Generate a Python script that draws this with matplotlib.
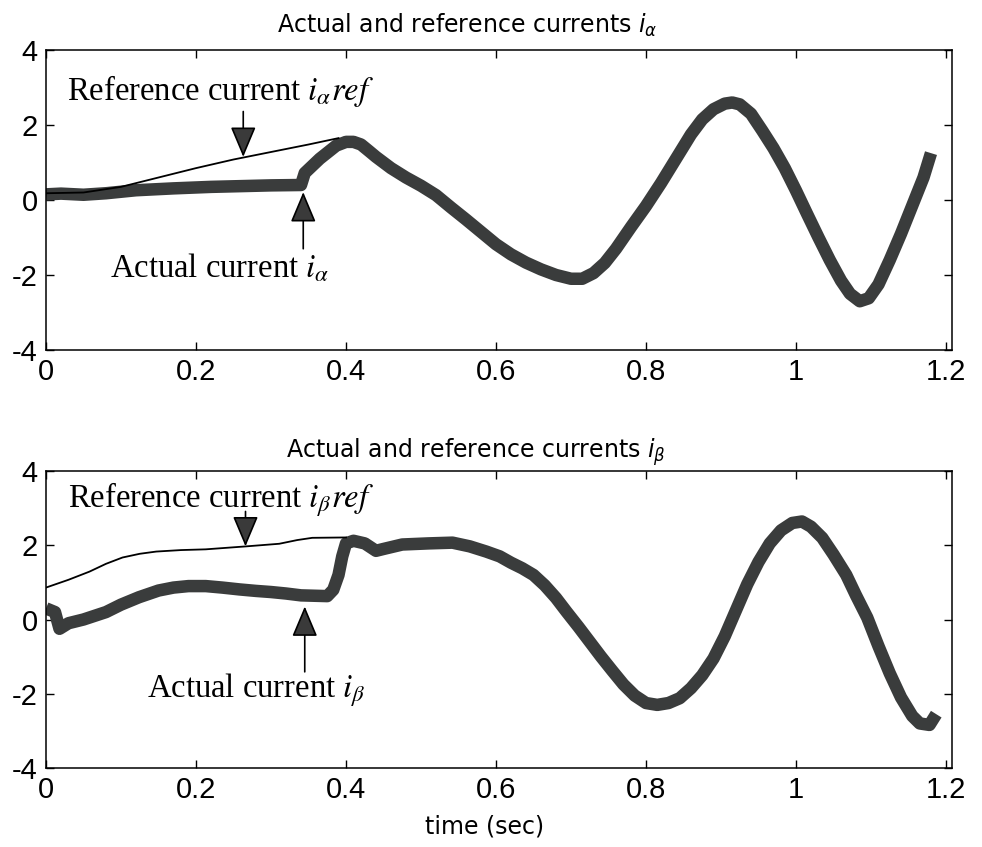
import matplotlib
matplotlib.use("Agg")
import matplotlib.pyplot as plt

plt.rcParams['axes.unicode_minus'] = False

# ---- data ----
t_alpha = [0.0, 0.02, 0.05, 0.08, 0.12, 0.17, 0.22, 0.26, 0.30, 0.34, 0.345, 0.365, 0.387,
           0.40, 0.41, 0.42, 0.431, 0.44, 0.46, 0.48, 0.50, 0.52, 0.54, 0.56, 0.58, 0.60,
           0.62, 0.64, 0.66, 0.68, 0.70, 0.715, 0.73, 0.745, 0.76, 0.78, 0.80, 0.82, 0.84,
           0.86, 0.875, 0.89, 0.905, 0.915, 0.925, 0.94, 0.955, 0.97, 0.985, 1.0, 1.015,
           1.03, 1.045, 1.06, 1.072, 1.085, 1.097, 1.11, 1.125, 1.14, 1.155, 1.17, 1.18]
i_alpha = [0.15, 0.17, 0.14, 0.18, 0.26, 0.31, 0.35, 0.37, 0.39, 0.4, 0.72, 1.1, 1.45,
           1.55, 1.55, 1.48, 1.3, 1.15, 0.85, 0.6, 0.38, 0.13, -0.2, -0.52, -0.85, -1.18,
           -1.45, -1.67, -1.85, -2.0, -2.1, -2.1, -1.95, -1.68, -1.3, -0.72, -0.16, 0.45, 1.1,
           1.75, 2.15, 2.42, 2.57, 2.6, 2.55, 2.3, 1.85, 1.38, 0.85, 0.25, -0.38,
           -1.0, -1.6, -2.15, -2.5, -2.7, -2.62, -2.25, -1.6, -0.9, -0.15, 0.6, 1.25]

t_alpha_ref = [0.0, 0.05, 0.10, 0.15, 0.20, 0.25, 0.30, 0.35, 0.39]
i_alpha_ref = [0.18, 0.2, 0.35, 0.6, 0.85, 1.08, 1.28, 1.48, 1.65]

t_beta = [0.0, 0.012, 0.018, 0.03, 0.05, 0.08, 0.10, 0.124, 0.15, 0.17, 0.19, 0.213, 0.235,
          0.258, 0.28, 0.30, 0.32, 0.34, 0.375, 0.383, 0.39, 0.395, 0.40, 0.41, 0.425, 0.44,
          0.45, 0.475, 0.51, 0.542, 0.565, 0.587, 0.605, 0.62, 0.635, 0.65, 0.665, 0.68,
          0.694, 0.71, 0.725, 0.74, 0.755, 0.77, 0.785, 0.80, 0.815, 0.83, 0.845, 0.86,
          0.875, 0.89, 0.905, 0.92, 0.935, 0.95, 0.965, 0.98, 0.995, 1.008, 1.02, 1.035,
          1.05, 1.067, 1.08, 1.095, 1.11, 1.125, 1.14, 1.155, 1.165, 1.178, 1.187]
i_beta = [0.3, 0.2, -0.25, -0.1, 0.0, 0.2, 0.4, 0.6, 0.78, 0.86, 0.9, 0.9, 0.86,
          0.81, 0.77, 0.74, 0.7, 0.65, 0.63, 0.8, 1.2, 1.7, 2.05, 2.12, 2.05, 1.85,
          1.9, 2.02, 2.05, 2.07, 1.97, 1.83, 1.7, 1.53, 1.38, 1.2, 0.92, 0.58,
          0.21, -0.2, -0.6, -1.0, -1.38, -1.75, -2.05, -2.25, -2.3, -2.25, -2.12, -1.85,
          -1.5, -1.05, -0.45, 0.25, 0.95, 1.55, 2.05, 2.4, 2.6, 2.64, 2.5, 2.2,
          1.75, 1.2, 0.65, 0.05, -0.72, -1.45, -2.1, -2.6, -2.8, -2.84, -2.55]

t_beta_ref = [0.0, 0.03, 0.058, 0.08, 0.102, 0.125, 0.147, 0.18, 0.213, 0.267, 0.311, 0.335,
              0.355, 0.40]
i_beta_ref = [0.86, 1.07, 1.29, 1.5, 1.67, 1.77, 1.83, 1.87, 1.89, 1.97, 2.04, 2.14,
              2.2, 2.21]

x_ticks = [0, 0.2, 0.4, 0.6, 0.8, 1.0, 1.2]
x_tick_labels = ["0", "0.2", "0.4", "0.6", "0.8", "1", "1.2"]
y_ticks = [-4, -2, 0, 2, 4]
y_tick_labels = ["-4", "-2", "0", "2", "4"]

titles = [r"Actual and reference currents $i_\alpha$", r"Actual and reference currents $i_\beta$"]
ref_labels = [r"Reference current $i_\alpha ref$", r"Reference current $i_\beta ref$"]
act_labels = [r"Actual current $i_\alpha$", r"Actual current $i_\beta$"]

# ---- figure ----
W, H = 982, 847
fig = plt.figure(figsize=(W / 100, H / 100), dpi=100)

def px_axes(left, top, right, bottom):
    return fig.add_axes([left / W, 1 - bottom / H, (right - left) / W, (bottom - top) / H])

ax1 = px_axes(46, 50, 952, 350)
ax2 = px_axes(46, 471, 952, 768)

band_color = "#3a3c3c"
tick_font = dict(family="Liberation Sans", size=21)
serif = dict(family="Liberation Serif", size=23.5)

setups = [
    (ax1, t_alpha, i_alpha, t_alpha_ref, i_alpha_ref),
    (ax2, t_beta, i_beta, t_beta_ref, i_beta_ref),
]
for ax, t, y, tr, yr in setups:
    ax.plot(t, y, color=band_color, lw=9, solid_joinstyle="round", solid_capstyle="butt", zorder=2)
    ax.plot(tr, yr, color="black", lw=1.3, zorder=3)
    ax.set_xlim(0, 1.208)
    ax.set_ylim(-4, 4)
    ax.set_xticks(x_ticks)
    ax.set_xticklabels(x_tick_labels, fontdict=tick_font)
    ax.set_yticks(y_ticks)
    ax.set_yticklabels(y_tick_labels, fontdict=tick_font)
    ax.tick_params(direction="in", length=6, width=1, top=True, right=True, pad=6)
    for s in ax.spines.values():
        s.set_linewidth(1.1)

arrow_kw = dict(arrowstyle="-|>,head_length=0.95,head_width=0.4", fc="#3a3a3a", ec="black",
                lw=1.2, mutation_scale=20, shrinkA=0, shrinkB=0)

# top annotations
ax1.text(0.028, 2.67, ref_labels[0], ha="left", va="baseline", math_fontfamily="stix", **serif)
ax1.annotate("", xy=(0.263, 1.15), xytext=(0.263, 2.36), arrowprops=arrow_kw, zorder=4)
ax1.text(0.085, -2.08, act_labels[0], ha="left", va="baseline", math_fontfamily="stix", **serif)
ax1.annotate("", xy=(0.343, 0.21), xytext=(0.343, -1.3), arrowprops=arrow_kw, zorder=4)

# bottom annotations
ax2.text(0.029, 3.02, ref_labels[1], ha="left", va="baseline", math_fontfamily="stix", **serif)
ax2.annotate("", xy=(0.266, 1.97), xytext=(0.266, 2.91), arrowprops=arrow_kw, zorder=4)
ax2.text(0.135, -2.09, act_labels[1], ha="left", va="baseline", math_fontfamily="stix", **serif)
ax2.annotate("", xy=(0.345, 0.35), xytext=(0.345, -1.41), arrowprops=arrow_kw, zorder=4)

# titles and x label
fig.text(467 / W, 1 - 33 / H, titles[0], ha="center", va="baseline",
         family="DejaVu Sans", size=17, math_fontfamily="dejavusans")
fig.text(476 / W, 1 - 458 / H, titles[1], ha="center", va="baseline",
         family="DejaVu Sans", size=17, math_fontfamily="dejavusans")
fig.text(485 / W, 1 - 833 / H, "time (sec)", ha="center", va="baseline",
         family="DejaVu Sans", size=17)

fig.savefig("out.png", dpi=100)
